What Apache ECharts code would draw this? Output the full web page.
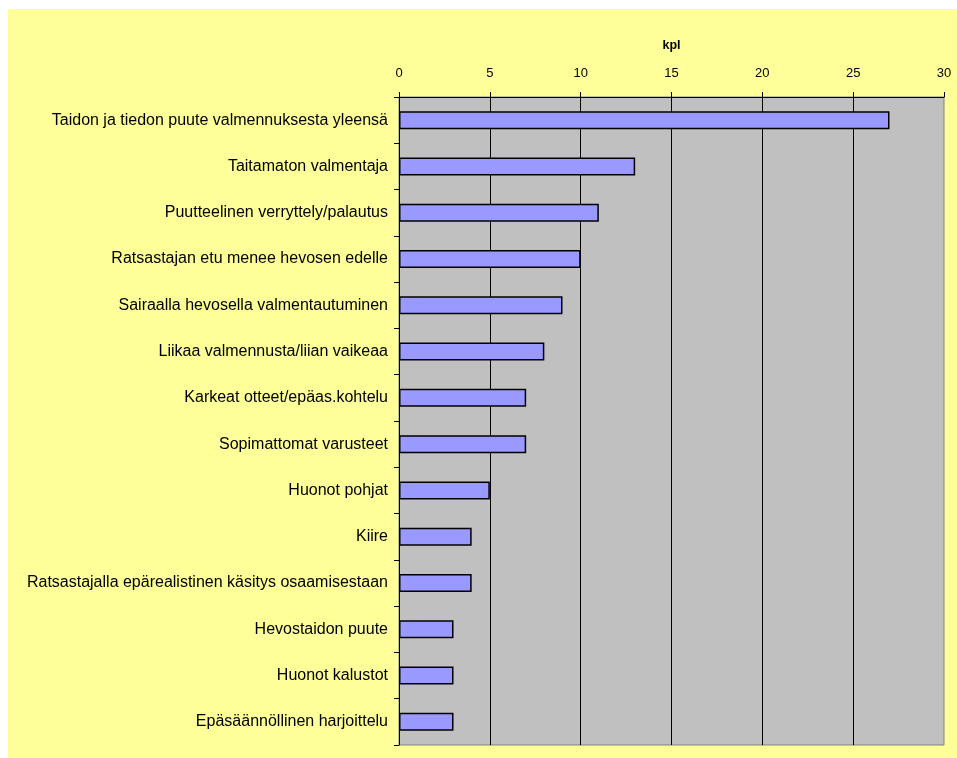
<!DOCTYPE html>
<html><head><meta charset="utf-8">
<script src="https://cdn.jsdelivr.net/npm/echarts@6/dist/echarts.min.js"></script>
<style>html,body{margin:0;padding:0;background:#fff;}#c{width:957px;height:758px;}</style>
</head><body><div id="c"></div>
<script>
const categories = [
  "Taidon ja tiedon puute valmennuksesta yleensä",
  "Taitamaton valmentaja",
  "Puutteelinen verryttely/palautus",
  "Ratsastajan etu menee hevosen edelle",
  "Sairaalla hevosella valmentautuminen",
  "Liikaa valmennusta/liian vaikeaa",
  "Karkeat otteet/epäas.kohtelu",
  "Sopimattomat varusteet",
  "Huonot pohjat",
  "Kiire",
  "Ratsastajalla epärealistinen käsitys osaamisestaan",
  "Hevostaidon puute",
  "Huonot kalustot",
  "Epäsäännöllinen harjoittelu"
];
const values = [27, 13, 11, 10, 9, 8, 7, 7, 5, 4, 4, 3, 3, 3];
const axisTitle = "kpl";

const FONT = '"Liberation Sans", Arial, sans-serif';
const chart = echarts.init(document.getElementById('c'));
chart.setOption({
  backgroundColor: '#ffffff',
  animation: false,
  textStyle: {fontFamily: FONT},
  graphic: [{type: 'rect', z: -10, silent: true, shape: {x: 8, y: 9, width: 960, height: 760}, style: {fill: '#FFFF99'}}],
  grid: {left: 399, top: 97, right: 13, bottom: 13, containLabel: false, outerBoundsMode: 'none',
         show: true, backgroundColor: '#C0C0C0', borderColor: '#808080', borderWidth: 1},
  xAxis: {
    type: 'value', position: 'top', min: 0, max: 30, interval: 5,
    name: axisTitle, nameLocation: 'middle', nameGap: 45,
    nameTextStyle: {fontWeight: 'bold', fontSize: 12.5, color: '#000', fontFamily: FONT},
    axisLine: {show: true, lineStyle: {color: '#000', width: 1}},
    axisTick: {show: true, length: 5, lineStyle: {color: '#000'}},
    axisLabel: {fontSize: 13, color: '#000', margin: 17, fontFamily: FONT},
    splitLine: {show: true, showMinLine: false, showMaxLine: false, lineStyle: {color: '#000', width: 1}}
  },
  yAxis: {
    type: 'category', data: categories, inverse: true,
    axisLine: {show: true, lineStyle: {color: '#000', width: 1}},
    axisTick: {show: true, length: 5, lineStyle: {color: '#000'}},
    axisLabel: {fontSize: 16, color: '#000', margin: 11, fontFamily: FONT}
  },
  series: [{
    type: 'bar', data: values, barWidth: 18,
    itemStyle: {color: '#9999FF', borderColor: '#000', borderWidth: 1.5}
  }]
});
</script></body></html>
